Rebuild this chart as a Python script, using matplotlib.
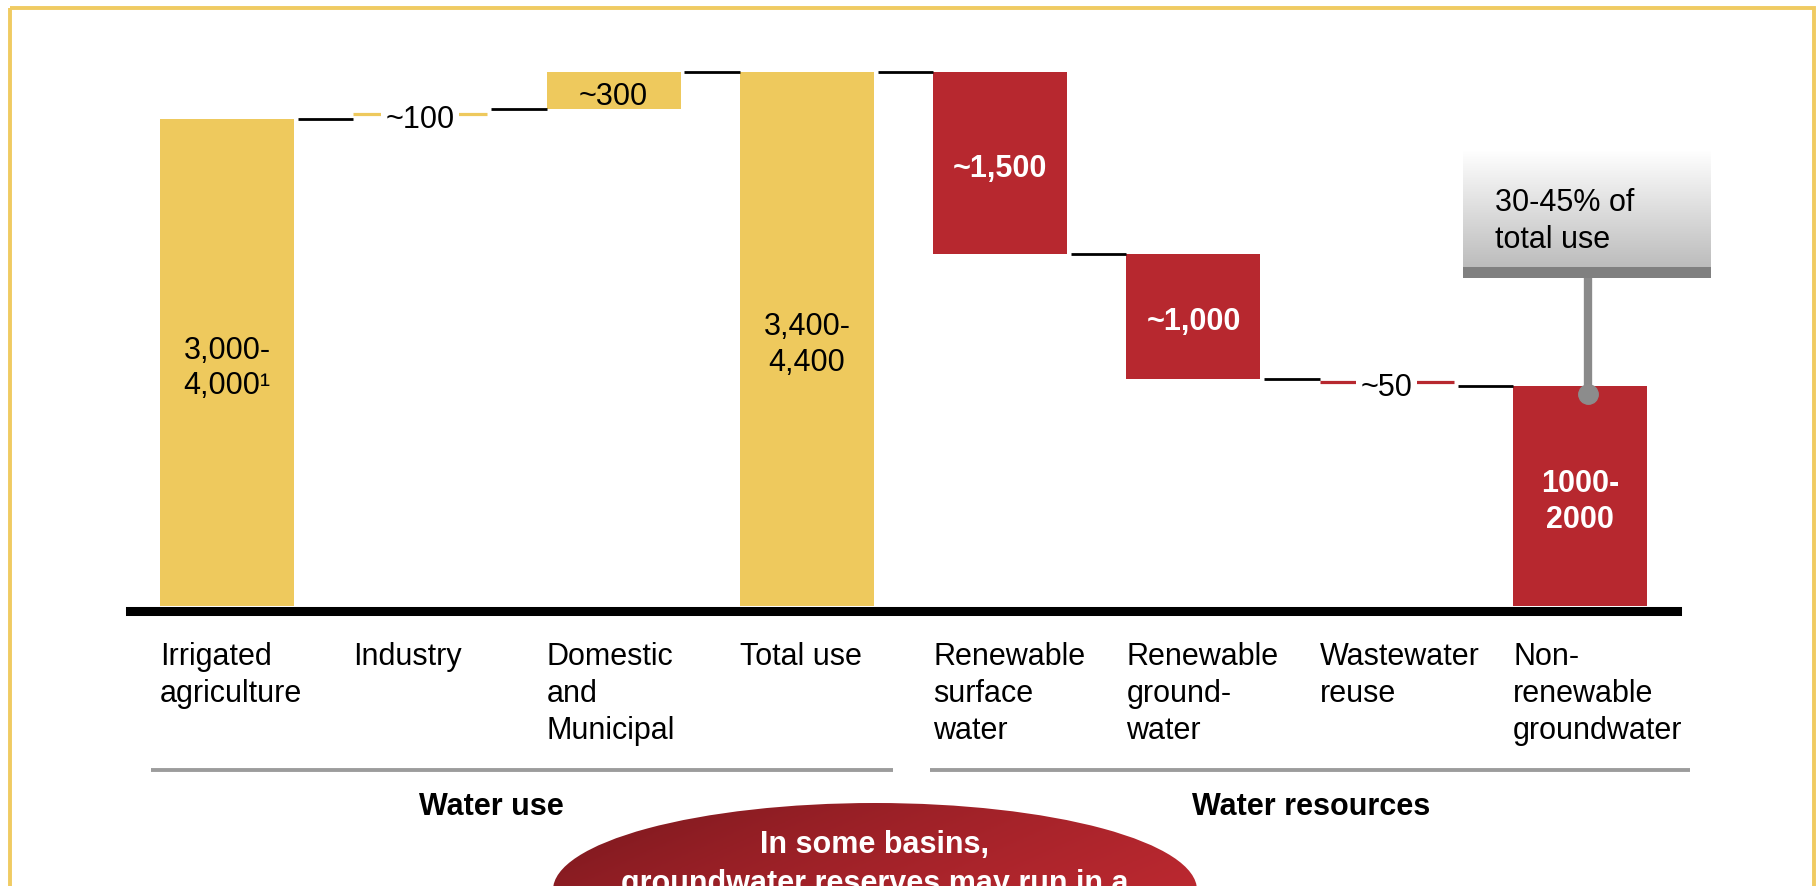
import matplotlib.pyplot as plt
import matplotlib.patches as mpatches
import matplotlib.transforms as mtransforms
import numpy as np

plt.rcParams['font.family'] = ['Liberation Sans', 'DejaVu Sans']

# categories and (schematic) sizes, km3
categories = ['Irrigated\nagriculture', 'Industry', 'Domestic\nand\nMunicipal', 'Total use',
              'Renewable\nsurface\nwater', 'Renewable\nground-\nwater', 'Wastewater\nreuse',
              'Non-\nrenewable\ngroundwater']
use_values = [3650, 70, 280]
total_use = 4000
resource_values = [1360, 940, 50, 1650]
value_labels = ['3,000-\n4,000\u00b9', '~100', '~300', '3,400-\n4,400',
                '~1,500', '~1,000', '~50', '1000-\n2000']
groups = ['Water use', 'Water resources']
callout_text = '30-45% of\ntotal use'
note_lines = ['In some basins,', 'groundwater reserves may run in a']

YELLOW = '#EEC95D'
RED = '#B7282F'

# waterfall geometry
bottoms, heights, levels = [], [], []
run = 0
for v in use_values:
    bottoms.append(run)
    heights.append(v)
    run += v
    levels.append(run)
bottoms.append(0)
heights.append(total_use)
run = total_use
levels.append(run)
for v in resource_values:
    run -= v
    bottoms.append(run)
    heights.append(v)
    levels.append(run)
colors = [YELLOW] * 4 + [RED] * 4
x = np.arange(len(categories))
w = 0.693

fig = plt.figure(figsize=(18.2, 8.86), dpi=100)
ax = fig.add_axes([130.3 / 1820, 280 / 886, 1546.4 / 1820, 566 / 886])
ax.set_xlim(-0.5, 7.5)
ax.set_ylim(0, 4240)
ax.axis('off')

lab_tr = mtransforms.offset_copy(ax.transData, fig=fig, y=-6, units='dots')

for i in range(len(x)):
    thin = heights[i] < 100
    mid = bottoms[i] + heights[i] / 2
    if thin:
        ax.hlines(mid, x[i] - w / 2, x[i] + w / 2, color=colors[i], lw=2.3)
        ax.text(x[i], mid, value_labels[i], ha='center', va='center', fontsize=22,
                transform=lab_tr,
                bbox=dict(boxstyle='square,pad=0.15', fc='white', ec='none'))
    else:
        ax.bar(x[i], heights[i], width=w, bottom=bottoms[i], color=colors[i], zorder=2)
        red = colors[i] == RED
        ax.text(x[i], mid, value_labels[i], ha='center', va='center', fontsize=22,
                color='white' if red else 'black', fontweight='bold' if red else 'normal',
                linespacing=1.25, zorder=3, transform=lab_tr)

# connectors
for i in range(len(x) - 1):
    ax.hlines(levels[i], x[i] + w / 2 + 0.02, x[i + 1] - w / 2, color='black', lw=2)

ax.axhline(-34, color='black', lw=6.5, clip_on=False)

for i, lab in enumerate(categories):
    ax.text(x[i] - w / 2, -0.064, lab, transform=ax.get_xaxis_transform(),
            ha='left', va='top', fontsize=22, linespacing=1.3)

# overlay in pixel coordinates for frame, groups, callout and note
ov = fig.add_axes([0, 0, 1, 1], zorder=5)
ov.patch.set_alpha(0)
ov.axis('off')

ov.add_patch(mpatches.Rectangle((10, 8), 1804, 880, fill=False, ec='#F0CB62', lw=2.8))

ov.hlines(770, 151, 893, color='#9c9c9c', lw=2.8)
ov.hlines(770, 930, 1690, color='#9c9c9c', lw=2.8)
ov.text(491, 815, groups[0], ha='center', va='baseline', fontsize=22, fontweight='bold')
ov.text(1311, 815, groups[1], ha='center', va='baseline', fontsize=22, fontweight='bold')

# callout box with gradient
grad = np.linspace(1.0, 0.74, 100)[:, None, None] * np.ones((100, 1, 3))
ov.imshow(grad, extent=[1463, 1711, 267, 150], origin='upper', aspect='auto', zorder=1)
ov.add_patch(mpatches.Rectangle((1463, 267), 248, 11, fc='#808080', ec='none', zorder=2))
ov.plot([1588, 1588], [278, 393], color='#8a8a8a', lw=6, solid_capstyle='butt', zorder=2)
ov.plot(1588, 394, 'o', color='#8c8c8c', ms=14, zorder=3)
ov.text(1495, 248, callout_text, ha='left', va='baseline', fontsize=22, linespacing=1.3, zorder=4)

# red note ellipse
ell = mpatches.Ellipse((875, 890), 644, 174, fc='none', ec='none')
ov.add_patch(ell)
gx, gy = np.meshgrid(np.linspace(0, 1, 200), np.linspace(0, 1, 60))
t = np.clip(0.75 * gx + 0.45 * gy, 0, 1) ** 0.6
dark = np.array([0.42, 0.08, 0.10])
light = np.array([0.74, 0.16, 0.19])
img = dark + (light - dark) * t[..., None]
im = ov.imshow(img, extent=[553, 1197, 977, 803], origin='upper', aspect='auto', zorder=1)
im.set_clip_path(ell)
ov.text(875, 853, note_lines[0], ha='center', va='baseline', fontsize=22,
        fontweight='bold', color='white', zorder=4)
ov.text(875, 892, note_lines[1], ha='center', va='baseline', fontsize=22,
        fontweight='bold', color='white', zorder=4)

ov.set_xlim(0, 1820)
ov.set_ylim(886, 0)

fig.savefig('out.png', dpi=100)
